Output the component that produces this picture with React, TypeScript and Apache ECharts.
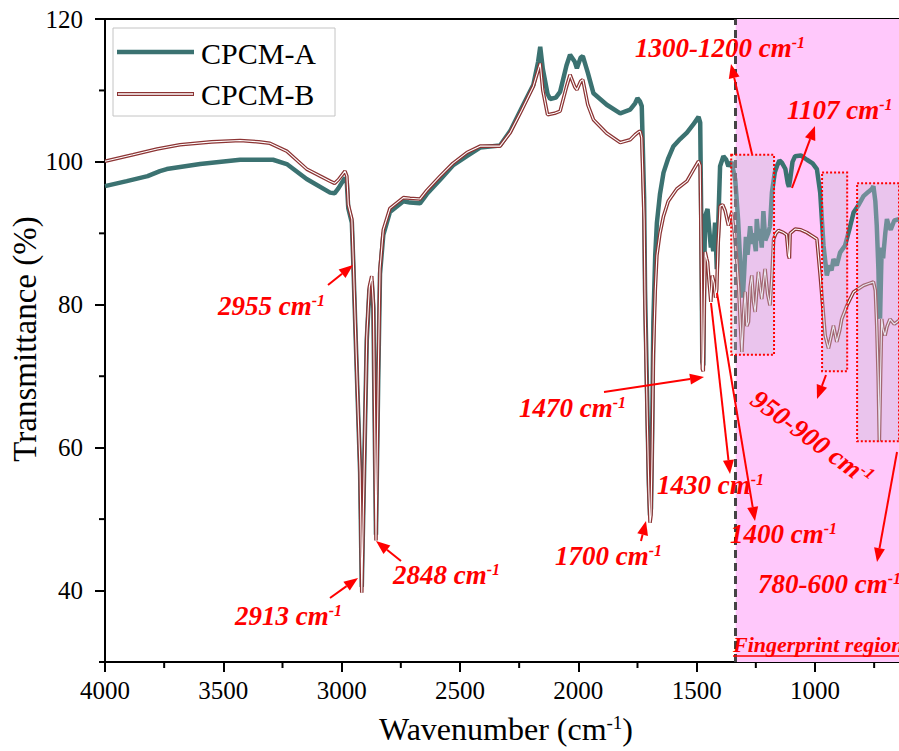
import React, { useEffect, useRef } from 'react';
import * as echarts from 'echarts';

const F = 'Liberation Serif';

// CPCM-A (teal) spectrum
const wnA = [4000, 3908, 3820, 3768, 3739, 3598, 3429, 3290, 3232, 3148, 3049, 3030, 3014, 2986, 2978, 2972, 2957, 2951, 2936, 2922, 2915, 2908, 2894, 2883, 2873, 2866, 2855, 2845, 2838, 2824, 2796, 2739, 2711, 2669, 2640, 2584, 2530, 2471, 2415, 2331, 2288, 2240, 2190, 2170, 2161, 2150, 2130, 2119, 2095, 2077, 2050, 2035, 2015, 2006, 1990, 1981, 1960, 1936, 1880, 1823, 1781, 1760, 1750, 1740, 1732, 1722, 1718, 1708, 1702, 1697, 1693, 1688, 1683, 1675, 1668, 1655, 1640, 1620, 1598, 1570, 1541, 1515, 1492, 1485, 1480, 1476, 1472, 1468, 1464, 1454, 1448, 1440, 1436, 1430, 1422, 1418, 1415, 1410, 1401, 1387, 1375, 1366, 1352, 1337, 1325, 1316, 1305, 1300, 1292, 1285, 1274, 1265, 1260, 1250, 1246, 1238, 1232, 1225, 1218, 1210, 1197, 1190, 1182, 1170, 1161, 1150, 1140, 1125, 1115, 1110, 1105, 1095, 1084, 1060, 1034, 1010, 992, 978, 964, 950, 940, 930, 922, 908, 894, 873, 855, 837, 815, 795, 775, 760, 753, 745, 739, 732, 728, 725, 721, 718, 712, 710, 703, 696, 688, 680, 665, 645];
const tA = [96.6, 97.3, 98.0, 98.7, 99.0, 99.7, 100.3, 100.3, 99.7, 97.6, 95.7, 95.6, 96.3, 97.8, 97.0, 93.5, 91.5, 86.0, 70.5, 56.5, 40.5, 52.0, 75.0, 82.0, 83.3, 79.5, 47.8, 70.5, 84.3, 89.8, 93.0, 94.5, 94.3, 94.2, 95.5, 97.5, 99.5, 100.8, 102.0, 102.3, 104.3, 107.5, 110.8, 114.0, 116.1, 113.0, 109.5, 108.8, 109.0, 109.8, 113.5, 115.0, 114.0, 113.1, 114.6, 114.8, 112.5, 109.6, 108.0, 106.8, 107.3, 108.2, 108.9, 108.5, 107.8, 95.0, 82.0, 65.0, 55.0, 50.5, 51.5, 62.0, 77.5, 87.0, 91.5, 95.5, 98.5, 100.5, 102.2, 103.2, 104.1, 105.2, 106.3, 105.5, 90.0, 72.0, 71.5, 85.0, 92.4, 93.4, 91.0, 88.0, 89.2, 87.5, 91.5, 88.0, 85.0, 90.0, 99.4, 100.8, 100.3, 99.4, 100.0, 97.5, 92.0, 86.0, 81.0, 84.0, 89.5, 87.0, 91.0, 88.5, 90.0, 87.5, 92.0, 89.0, 90.6, 88.0, 93.1, 89.0, 90.1, 91.0, 95.7, 98.5, 99.4, 100.2, 99.9, 99.0, 97.0, 96.5, 97.5, 100.0, 100.8, 100.9, 100.3, 99.8, 99.0, 95.7, 88.3, 84.1, 85.5, 84.8, 86.4, 85.5, 87.3, 88.3, 90.5, 92.9, 94.0, 95.2, 95.8, 96.2, 96.6, 94.5, 91.1, 85.0, 78.5, 78.1, 84.0, 88.0, 86.5, 87.4, 90.0, 92.0, 91.0, 90.5, 91.8, 92.0];

// CPCM-B (brown) spectrum
const wnB = [4000, 3882, 3780, 3683, 3550, 3429, 3350, 3303, 3232, 3148, 3049, 3030, 3014, 2986, 2978, 2972, 2957, 2951, 2936, 2922, 2915, 2908, 2894, 2883, 2873, 2866, 2855, 2845, 2838, 2824, 2796, 2739, 2711, 2669, 2640, 2584, 2530, 2471, 2415, 2331, 2288, 2240, 2190, 2170, 2161, 2150, 2130, 2100, 2077, 2050, 2035, 2015, 2006, 1990, 1981, 1960, 1936, 1880, 1823, 1781, 1760, 1745, 1739, 1732, 1722, 1718, 1708, 1702, 1697, 1693, 1688, 1683, 1675, 1668, 1655, 1640, 1620, 1584, 1541, 1515, 1492, 1485, 1480, 1476, 1472, 1468, 1464, 1458, 1454, 1448, 1440, 1434, 1426, 1420, 1415, 1410, 1401, 1390, 1380, 1366, 1352, 1340, 1330, 1323, 1315, 1309, 1302, 1295, 1288, 1281, 1274, 1267, 1260, 1253, 1246, 1239, 1232, 1225, 1218, 1211, 1200, 1190, 1182, 1175, 1165, 1154, 1133, 1120, 1112, 1108, 1105, 1084, 1060, 1034, 1010, 992, 978, 957, 943, 932, 922, 908, 895, 887, 865, 837, 795, 770, 753, 745, 739, 733, 728, 723, 718, 712, 704, 695, 683, 665, 645];
const tB = [100.1, 101.0, 101.8, 102.4, 102.8, 103.0, 102.8, 102.6, 101.5, 99.0, 97.3, 97.0, 97.5, 98.7, 98.0, 94.0, 92.0, 86.2, 70.5, 56.5, 39.7, 52.0, 75.5, 82.5, 84.0, 80.0, 47.0, 71.0, 85.0, 90.5, 93.5, 95.0, 94.9, 94.8, 96.0, 98.0, 99.8, 101.3, 102.2, 102.2, 104.1, 107.2, 110.6, 112.8, 113.8, 110.0, 106.6, 106.8, 107.1, 110.5, 112.2, 110.5, 110.1, 111.3, 111.5, 108.0, 105.9, 104.0, 102.7, 103.1, 103.8, 104.2, 104.3, 103.4, 92.0, 80.0, 63.0, 54.0, 49.5, 50.5, 60.0, 72.9, 82.0, 86.9, 90.0, 92.4, 94.5, 96.2, 97.3, 98.8, 100.1, 99.5, 85.0, 71.0, 70.7, 80.0, 87.4, 86.5, 86.0, 83.5, 80.4, 84.1, 83.0, 81.0, 82.2, 88.0, 93.8, 94.0, 93.2, 91.1, 92.9, 90.0, 86.0, 82.7, 77.0, 73.4, 78.5, 81.8, 77.0, 77.6, 82.5, 84.1, 80.5, 79.0, 82.0, 84.6, 82.5, 80.8, 83.0, 85.0, 81.5, 79.9, 84.0, 89.2, 90.0, 90.4, 90.1, 89.8, 86.9, 86.5, 90.0, 90.6, 90.5, 90.1, 89.6, 89.2, 84.1, 75.7, 73.9, 75.5, 77.1, 74.8, 76.5, 78.0, 79.9, 81.8, 82.7, 83.0, 83.2, 82.0, 77.1, 70.0, 60.9, 70.0, 78.0, 76.5, 75.7, 77.0, 78.0, 77.3, 77.8];

const seriesNames = ['CPCM-A', 'CPCM-B'];
const xMajorTicks = [4000, 3500, 3000, 2500, 2000, 1500, 1000];
const xMinorTicks = [3750, 3250, 2750, 2250, 1750, 1250, 750];
const yMajorTicks = [40, 60, 80, 100, 120];
const yMinorTicks = [30, 50, 70, 90, 110];
const xRange = [645, 4000];
const yRange = [30, 120];
const fingerprintStart = 1335;
// highlighted boxes: x from, x to, y top, y bottom
const boxX1 = [1354, 970, 822];
const boxX2 = [1173, 864, 645];
const boxY1 = [101.0, 98.5, 97.0];
const boxY2 = [73.0, 70.7, 60.9];

const TEAL = '#3b7271';
const BROWN = '#8c3434';
const RED = '#ff0000';

function arrow(x1: number, y1: number, x2: number, y2: number) {
  const ang = Math.atan2(y2 - y1, x2 - x1);
  const L = 14, W = 5.5;
  const bx = x2 - L * Math.cos(ang), by = y2 - L * Math.sin(ang);
  const px = -Math.sin(ang) * W, py = Math.cos(ang) * W;
  return [
    { type: 'line', z: 100, shape: { x1, y1, x2: bx, y2: by }, style: { stroke: RED, lineWidth: 2 } },
    { type: 'polygon', z: 100, shape: { points: [[x2, y2], [bx + px, by + py], [bx - px, by - py]] }, style: { fill: RED } },
  ];
}

function ann(label: string, x: number, y: number, rotation = 0, align = 'left') {
  return {
    type: 'text', x, y, rotation, z: 100,
    style: {
      text: `{n|${label} cm}{s|-1}`,
      align, verticalAlign: 'middle',
      rich: {
        n: { fontSize: 27, fontWeight: 'bold', fontStyle: 'italic', fontFamily: F, fill: RED },
        s: { fontSize: 16, fontWeight: 'bold', fontStyle: 'italic', fontFamily: F, fill: RED, verticalAlign: 'top' },
      },
    },
  };
}

export default function App() {
  const ref = useRef<HTMLDivElement>(null);
  useEffect(() => {
    if (!ref.current) return;
    const chart = echarts.init(ref.current, null, { renderer: 'svg' });
    const dataA = wnA.map((w, i) => [w, tA[i]]);
    const dataB = wnB.map((w, i) => [w, tB[i]]);
    const axisLine = { show: true, onZero: false, lineStyle: { color: '#000', width: 2 } };
    const tickStyle = { color: '#000', width: 2 };
    const labelStyle = { fontSize: 25, fontFamily: F, color: '#000' };
    const plain = (v: number) => String(v);

    const graphics: any[] = [
      // legend
      { type: 'rect', z: 90, shape: { x: 113, y: 28, width: 222, height: 88 }, style: { fill: '#fff', stroke: '#c4c4c4', lineWidth: 1 } },
      { type: 'line', z: 91, shape: { x1: 117, y1: 52, x2: 194, y2: 52 }, style: { stroke: TEAL, lineWidth: 4.5 } },
      { type: 'text', z: 91, x: 201, y: 53, style: { text: seriesNames[0], fontSize: 30, fontFamily: F, fill: '#000', verticalAlign: 'middle' } },
      { type: 'line', z: 91, shape: { x1: 117, y1: 94, x2: 194, y2: 94 }, style: { stroke: BROWN, lineWidth: 4 } },
      { type: 'line', z: 92, shape: { x1: 118, y1: 94, x2: 193, y2: 94 }, style: { stroke: '#fff', lineWidth: 1.3 } },
      { type: 'text', z: 91, x: 201, y: 94, style: { text: seriesNames[1], fontSize: 30, fontFamily: F, fill: '#000', verticalAlign: 'middle' } },
      // axis titles
      {
        type: 'text', z: 90, x: 506, y: 729,
        style: {
          text: '{a|Wavenumber (cm}{s|-1}{a|)}', align: 'center', verticalAlign: 'middle',
          rich: { a: { fontSize: 32, fontFamily: F, fill: '#000' }, s: { fontSize: 19, fontFamily: F, fill: '#000', verticalAlign: 'top' } },
        },
      },
      {
        type: 'text', z: 90, x: 25, y: 339, rotation: Math.PI / 2,
        style: { text: 'Transmittance (%)', align: 'center', verticalAlign: 'middle', fontSize: 33, fontFamily: F, fill: '#000' },
      },
      // annotations
      ann('2955', 218, 306),
      ...arrow(328, 285, 353, 265),
      ann('2913', 235, 616),
      ...arrow(330, 598, 358, 578),
      ann('2848', 393, 575),
      ...arrow(401, 561, 376, 541),
      ann('1700', 555, 556),
      ...arrow(641, 541, 646, 521),
      ann('1470', 519, 408),
      ...arrow(604, 392, 704, 377),
      ann('1430', 657, 485),
      ...arrow(711, 303, 730, 474),
      ann('1400', 730, 534),
      ...arrow(717, 293, 755, 521),
      ann('950-900', 812, 438, -36 * Math.PI / 180, 'center'),
      ...arrow(826, 375, 817, 399),
      ann('780-600', 758, 584),
      ...arrow(897, 452, 877, 562),
      ann('1300-1200', 635, 48),
      ...arrow(752, 154, 731, 64),
      ann('1107', 787, 110),
      ...arrow(792, 188, 815, 126),
      {
        type: 'text', z: 100, x: 733, y: 644,
        style: { text: 'Fingerprint region', fontSize: 22, fontWeight: 'bold', fontStyle: 'italic', fontFamily: F, fill: RED, verticalAlign: 'middle' },
      },
      { type: 'line', z: 100, shape: { x1: 733, y1: 656, x2: 899, y2: 656 }, style: { stroke: RED, lineWidth: 1.5 } },
    ];

    const option: any = {
      animation: false,
      grid: { left: 105, right: 0, top: 19, bottom: 89, containLabel: false },
      xAxis: [
        {
          type: 'value', inverse: true, min: xRange[0], max: xRange[1], position: 'bottom',
          axisLine,
          axisTick: { show: true, customValues: xMajorTicks, length: 10, lineStyle: tickStyle },
          axisLabel: { show: true, customValues: xMajorTicks, margin: 16, formatter: plain, ...labelStyle },
          splitLine: { show: false },
        },
        {
          type: 'value', inverse: true, min: xRange[0], max: xRange[1], position: 'top',
          axisLine, axisTick: { show: false }, axisLabel: { show: false }, splitLine: { show: false },
        },
      ],
      yAxis: [
        {
          type: 'value', min: yRange[0], max: yRange[1], position: 'left',
          axisLine,
          axisTick: { show: true, customValues: yMajorTicks, length: 10, lineStyle: tickStyle },
          axisLabel: { show: true, customValues: yMajorTicks, margin: 22, formatter: plain, ...labelStyle },
          splitLine: { show: false },
        },
      ],
      series: [
        {
          name: seriesNames[0], type: 'line', data: dataA, showSymbol: false, z: 2,
          lineStyle: { color: TEAL, width: 4.5 }, itemStyle: { color: TEAL },
          markArea: {
            silent: true, z: 1,
            itemStyle: { color: '#ffc8fb', opacity: 1 },
            data: [[{ xAxis: fingerprintStart }, { xAxis: xRange[0] }]],
          },
          markLine: {
            silent: true, symbol: 'none', z: 6,
            lineStyle: { color: '#444', width: 3, type: [8, 5] },
            label: { show: false },
            data: [{ xAxis: fingerprintStart }],
          },
        },
        {
          name: seriesNames[1], type: 'line', data: dataB, showSymbol: false, z: 3,
          lineStyle: { color: BROWN, width: 3.6 }, itemStyle: { color: BROWN },
        },
        {
          name: seriesNames[1] + ' core', type: 'line', data: dataB, showSymbol: false, z: 4,
          lineStyle: { color: '#ffffff', width: 1.1 },
          markArea: {
            silent: true, z: 8,
            itemStyle: { color: 'rgba(200,190,215,0.38)', borderColor: RED, borderWidth: 2, borderType: 'dotted' },
            data: boxX1.map((x1, i) => [{ xAxis: x1, yAxis: boxY1[i] }, { xAxis: boxX2[i], yAxis: boxY2[i] }]),
          },
        },
      ],
      graphic: graphics,
    };
    chart.setOption(option);

    // minor ticks, placed through the axes' own scales
    const bottomY = chart.convertToPixel({ yAxisIndex: 0 }, yRange[0]) as number;
    const leftX = chart.convertToPixel({ xAxisIndex: 0 }, xRange[1]) as number;
    const minor: any[] = [];
    xMinorTicks.forEach((v) => {
      const px = chart.convertToPixel({ xAxisIndex: 0 }, v) as number;
      minor.push({ type: 'line', z: 95, shape: { x1: px, y1: bottomY, x2: px, y2: bottomY + 6 }, style: { stroke: '#000', lineWidth: 2 } });
    });
    yMinorTicks.forEach((v) => {
      const py = chart.convertToPixel({ yAxisIndex: 0 }, v) as number;
      minor.push({ type: 'line', z: 95, shape: { x1: leftX - 6, y1: py, x2: leftX, y2: py }, style: { stroke: '#000', lineWidth: 2 } });
    });
    chart.setOption({ ...option, graphic: [...graphics, ...minor] }, true);

    return () => chart.dispose();
  }, []);
  return <div ref={ref} style={{ position: 'absolute', left: 0, top: 0, width: 899, height: 751 }} />;
}
